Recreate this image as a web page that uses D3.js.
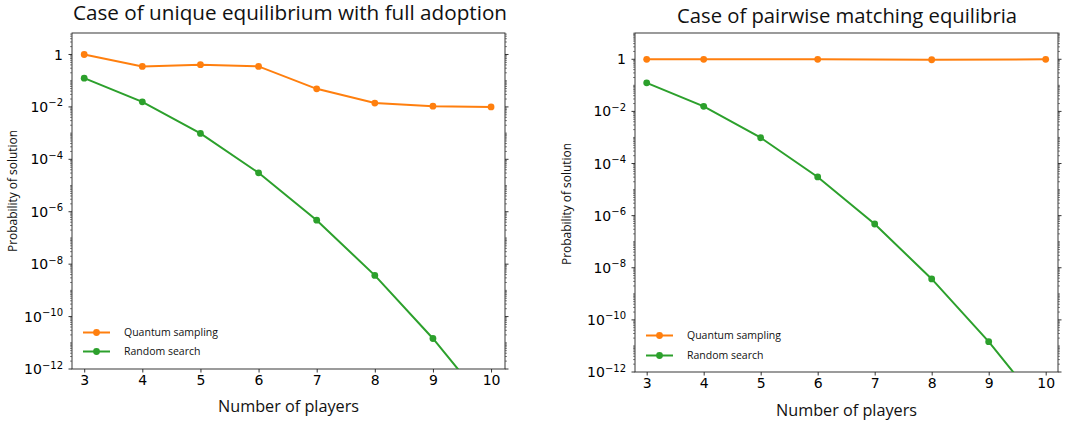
<!DOCTYPE html>
<html>
<head>
    <title>Probability of solution</title>
    <script src="https://d3js.org/d3.v7.min.js"></script>
    <style type="text/css">
        body { margin: 0; background: #ffffff; }
        svg { background: #ffffff; }
        .tick-label { font-family: "DejaVu Sans", sans-serif; font-size: 14px; fill: #000; }
        .title { font-family: "Open Sans", sans-serif; font-size: 20px; fill: #111; }
        .xlabel { font-family: "Open Sans", sans-serif; font-size: 16.5px; fill: #111; }
        .ylabel { font-family: "Open Sans", sans-serif; font-size: 12px; fill: #111; }
        .legend-text { font-family: "Open Sans", sans-serif; font-size: 10.5px; fill: #111; }
    </style>
</head>
<body>
<div id="chart"></div>
<script>
// data
var players = [3, 4, 5, 6, 7, 8, 9, 10]
var quantumUnique = [1.0, 0.35, 0.41, 0.35, 0.049, 0.014, 0.0107, 0.0100]
var randomSearch = [0.125, 0.0156, 9.77e-4, 3.05e-5, 4.77e-7, 3.73e-9, 1.46e-11, 2.84e-14]
var playersPairwise = [3, 4, 6, 8, 10]
var quantumPairwise = [1.0, 1.0, 1.0, 0.96, 1.0]
var xTicks = [3, 4, 5, 6, 7, 8, 9, 10]
var yExps = [0, -2, -4, -6, -8, -10, -12]
var seriesNames = ["Quantum sampling", "Random search"]
var colors = ["#ff7f0e", "#2ca02c"]

var W = 1071, H = 421

var svg = d3.select("#chart")
    .append("svg")
    .attr("width", W)
    .attr("height", H)

var panels = [
    {
        id: "a", title: "Case of unique equilibrium with full adoption",
        left: 72, right: 505, top: 33, bottom: 369,
        xdom: [2.79, 10.24], ytop: Math.pow(10, 0.82),
        titleX: 290, titleY: 20, titleLen: 434,
        xlabY: 412, ylabX: 17, ylabY: 191,
        legX: 83, legY: [332.5, 351.5],
        series: [
            {x: players, y: quantumUnique},
            {x: players, y: randomSearch}
        ]
    },
    {
        id: "b", title: "Case of pairwise matching equilibria",
        left: 635, right: 1058, top: 33, bottom: 372,
        xdom: [2.795, 10.216], ytop: 10.2,
        titleX: 847, titleY: 23, titleLen: 340,
        xlabY: 415.5, ylabX: 571, ylabY: 204,
        legX: 646, legY: [335.5, 355.5],
        series: [
            {x: playersPairwise, y: quantumPairwise},
            {x: players, y: randomSearch}
        ]
    }
]

panels.forEach(drawPanel)

function drawPanel(p)
{
    var g = svg.append("g")

    var x = d3.scaleLinear().domain(p.xdom).range([p.left, p.right])
    var y = d3.scaleLog().domain([1e-12, p.ytop]).range([p.bottom, p.top])

    // clip for the lines
    svg.append("clipPath").attr("id", "clip-" + p.id)
        .append("rect")
        .attr("x", p.left).attr("y", p.top)
        .attr("width", p.right - p.left).attr("height", p.bottom - p.top)

    // title
    g.append("text").attr("class", "title")
        .attr("x", p.titleX).attr("y", p.titleY)
        .attr("text-anchor", "middle")
        .attr("textLength", p.titleLen)
        .attr("lengthAdjust", "spacingAndGlyphs")
        .text(p.title)

    // minor/major log ticks on left and right spines
    var minor = []
    for (var e = -12; e <= 1; e++) {
        for (var m = 1; m <= 9; m++) {
            var v = m * Math.pow(10, e)
            if (v < 1e-12 || v > p.ytop) continue
            if (m === 1 && e % 2 === 0) continue
            minor.push(v)
        }
    }
    g.selectAll(".minor-l").data(minor).enter().append("line")
        .attr("x1", p.left - 2).attr("x2", p.left)
        .attr("y1", function(d){ return y(d) }).attr("y2", function(d){ return y(d) })
        .attr("stroke", "#333").attr("stroke-width", 0.6)
    g.selectAll(".minor-r").data(minor).enter().append("line")
        .attr("x1", p.right).attr("x2", p.right + 2)
        .attr("y1", function(d){ return y(d) }).attr("y2", function(d){ return y(d) })
        .attr("stroke", "#333").attr("stroke-width", 0.6)

    var majors = yExps.map(function(e){ return Math.pow(10, e) })
    g.selectAll(".major-l").data(majors).enter().append("line")
        .attr("x1", p.left - 3.5).attr("x2", p.left)
        .attr("y1", function(d){ return y(d) }).attr("y2", function(d){ return y(d) })
        .attr("stroke", "#000").attr("stroke-width", 0.8)
    g.selectAll(".major-r").data(majors).enter().append("line")
        .attr("x1", p.right).attr("x2", p.right + 3.5)
        .attr("y1", function(d){ return y(d) }).attr("y2", function(d){ return y(d) })
        .attr("stroke", "#000").attr("stroke-width", 0.8)

    // y tick labels
    yExps.forEach(function(e){
        var t = g.append("text").attr("class", "tick-label")
            .attr("x", p.left - 9)
            .attr("y", y(Math.pow(10, e)))
            .attr("dy", "0.36em")
            .attr("text-anchor", "end")
        if (e === 0) {
            t.text("1")
        } else {
            t.append("tspan").text("10")
            t.append("tspan").attr("dy", "-0.55em").attr("font-size", "10px").text("\u2212" + (-e))
        }
    })

    // x axis
    var xAxis = d3.axisBottom(x).tickValues(xTicks).tickSize(3.5).tickPadding(3)
    var ax = g.append("g")
        .attr("transform", "translate(0," + p.bottom + ")")
        .call(xAxis)
    ax.select(".domain").remove()
    ax.selectAll("text").attr("class", "tick-label").attr("font-family", null).attr("font-size", null)
    ax.selectAll("line").attr("stroke", "#000").attr("stroke-width", 0.8)

    // frame
    g.append("rect")
        .attr("x", p.left).attr("y", p.top)
        .attr("width", p.right - p.left).attr("height", p.bottom - p.top)
        .attr("fill", "none").attr("stroke", "#222").attr("stroke-width", 0.9)

    // axis labels
    g.append("text").attr("class", "xlabel")
        .attr("x", (p.left + p.right) / 2).attr("y", p.xlabY)
        .attr("text-anchor", "middle")
        .attr("textLength", 141).attr("lengthAdjust", "spacingAndGlyphs")
        .text("Number of players")
    g.append("text").attr("class", "ylabel")
        .attr("transform", "translate(" + p.ylabX + "," + p.ylabY + ") rotate(-90)")
        .attr("text-anchor", "middle")
        .attr("textLength", 122).attr("lengthAdjust", "spacingAndGlyphs")
        .text("Probability of solution")

    // series
    var line = d3.line()
        .x(function(d){ return x(d[0]) })
        .y(function(d){ return y(d[1]) })

    var plot = g.append("g").attr("clip-path", "url(#clip-" + p.id + ")")
    p.series.forEach(function(s, i){
        var pts = s.x.map(function(v, k){ return [v, s.y[k]] })
        plot.append("path")
            .datum(pts)
            .attr("d", line)
            .attr("fill", "none")
            .attr("stroke", colors[i])
            .attr("stroke-width", 2)
        plot.selectAll(".pt" + i).data(pts).enter().append("circle")
            .attr("cx", function(d){ return x(d[0]) })
            .attr("cy", function(d){ return y(d[1]) })
            .attr("r", 3.4)
            .attr("fill", colors[i])
    })

    // legend
    seriesNames.forEach(function(name, i){
        var ly = p.legY[i]
        g.append("line")
            .attr("x1", p.legX).attr("x2", p.legX + 27)
            .attr("y1", ly).attr("y2", ly)
            .attr("stroke", colors[i]).attr("stroke-width", 2)
        g.append("circle")
            .attr("cx", p.legX + 13.5).attr("cy", ly).attr("r", 3.4)
            .attr("fill", colors[i])
        g.append("text").attr("class", "legend-text")
            .attr("x", p.legX + 41).attr("y", ly).attr("dy", "0.35em")
            .text(name)
    })
}
</script>
</body>
</html>
